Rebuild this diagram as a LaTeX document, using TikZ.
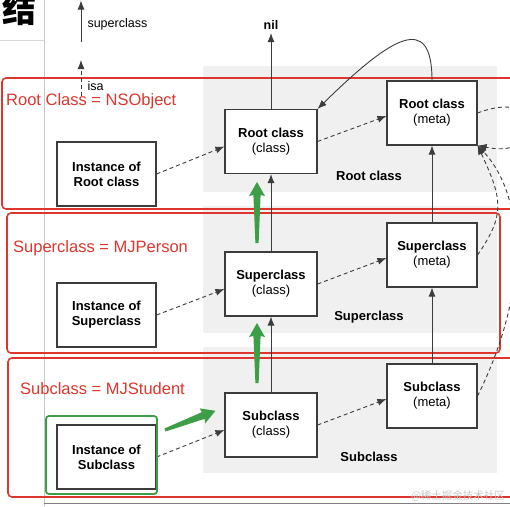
\documentclass[tikz,border=0pt]{standalone}
\usepackage{fontspec}
\setmainfont{Liberation Sans}
\newfontfamily\cjk{Noto Sans CJK SC}
\usetikzlibrary{arrows.meta,positioning}
\definecolor{objred}{RGB}{222,54,46}
\definecolor{objgreen}{RGB}{62,158,72}
\definecolor{panelgray}{RGB}{240,240,240}
\definecolor{edgegray}{RGB}{60,60,60}
\definecolor{pagegray}{RGB}{200,200,200}

% green tapered arrow: tail, angle, length
\newcommand{\fatarrow}[3]{%
  \fill[objgreen,shift={#1},rotate=#2]
    (0,-1.6) -- (#3-13,-3.6) -- (#3-14,-8) -- (#3,0) -- (#3-14,8) -- (#3-13,3.6) -- (0,1.6) -- cycle;}

\begin{document}
\begin{tikzpicture}[x=1pt,y=-1pt,
  box/.style={draw=edgegray,line width=1.1pt,fill=white,align=center,
    minimum height=64,font=\fontsize{13}{15}\selectfont},
  inst/.style={box,minimum width=99},
  cls/.style={box,minimum width=92},
  meta/.style={box,minimum width=90},
  sup/.style={-{Latex[length=9pt,width=7pt]},line width=0.9pt,draw=edgegray},
  isa/.style={sup,dash pattern=on 4pt off 3pt},
  redbox/.style={draw=objred,line width=1.6pt,rounded corners=4pt},
  redtext/.style={text=objred,anchor=west,inner sep=0pt,font=\fontsize{16.5}{18}\selectfont},
  rowtext/.style={font=\bfseries\fontsize{13}{15}\selectfont}]

\useasboundingbox (0,0) rectangle (510,506);
\clip (0,0) rectangle (510,506);

% page frame
\draw[pagegray,line width=0.8pt] (44,0) -- (44,506);
\draw[pagegray!70,line width=0.8pt] (0,40) -- (44,40);
\draw[gray,line width=0.8pt] (44,503.5) -- (510,503.5);
\node[font=\cjk\bfseries\fontsize{34}{34}\selectfont] (head) at (19,9) {结};

% gray panels
\foreach \pt/\pb in {66/192, 206/333, 347/473}
  \fill[panelgray] (203,\pt) rectangle (497,\pb);

% red frames
\draw[redbox] (515,78) -- (2,78) -- (2,209) -- (515,209);
\draw[redbox] (7,213) rectangle (500,353);
\draw[redbox] (515,358) -- (8,358) -- (8,497) -- (515,497);
\node[redtext] (rootname) at (6,101) {Root Class = NSObject};
\node[redtext] (supname) at (13,248) {Superclass = MJPerson};
\node[redtext] (subname) at (20,389) {Subclass = MJStudent};

% legend
\coordinate (lsup0) at (81,42);
\coordinate (lsup1) at (81,0.5);
\coordinate (lisa0) at (81,96);
\coordinate (lisa1) at (81,60);
\draw[sup] (lsup0) -- (lsup1);
\draw[isa] (lisa0) -- (lisa1);
\node[anchor=west,font=\fontsize{12.5}{14}\selectfont] (lsuptext) at (84,24) {superclass};
\node[anchor=west,font=\fontsize{12.5}{14}\selectfont] (lisatext) at (84,86) {isa};

% rows of boxes
\foreach \nm/\word/\yi/\yc/\ym/\pb in {root/Root class/174/141.5/113/192,
    super/Superclass/315/284/255/333, sub/Subclass/457/425/396/473}{
  \node[inst] (\nm inst) at (106.5,\yi) {\textbf{Instance of}\\\textbf{\word}};
  \node[cls] (\nm cls) at (271,\yc) {\textbf{\word}\\(class)};
  \node[meta] (\nm meta) at (432,\ym) {\textbf{\word}\\(meta)};
  \node[rowtext] (\nm row) at (369,\pb-16) {\word};
  \draw[isa] (\nm inst.east) -- ([yshift=-5pt]\nm cls.west);
  \draw[isa] (\nm cls.east) -- ([yshift=-3pt]\nm meta.west);
}

% superclass chain
\node[font=\bfseries\fontsize{12.5}{14}\selectfont] (nil) at (271,25) {nil};
\draw[sup] (rootcls.north) -- (nil.south);
\draw[sup] (supercls.north) -- (rootcls.south);
\draw[sup] (subcls.north) -- (supercls.south);
\draw[sup] (supermeta.north) -- (rootmeta.south);
\draw[sup] (submeta.north) -- (supermeta.south);
\draw[sup] (rootmeta.north) .. controls (432,12) and (392,36) .. (rootcls.north east);

% meta isa
\draw[isa] (rootmeta.east) .. controls (548,86) and (548,160) .. (rootmeta.south east);
\draw[isa] (supermeta.east) .. controls (505,215) and (503,200) .. (rootmeta.south east);
\draw[isa] (submeta.east) .. controls (535,280) and (520,190) .. (rootmeta.south east);

% green marks
\draw[objgreen,line width=1.8pt,rounded corners=3pt] (46,416) rectangle (157,494);
\fatarrow{(257,243)}{90}{61}
\fatarrow{(257,383)}{90}{60}
\fatarrow{(165,430)}{20.8}{54}

\node[text=pagegray,font=\cjk\fontsize{10.5}{12}\selectfont] (mark) at (458,496) {@稀土掘金技术社区};
\end{tikzpicture}
\end{document}
